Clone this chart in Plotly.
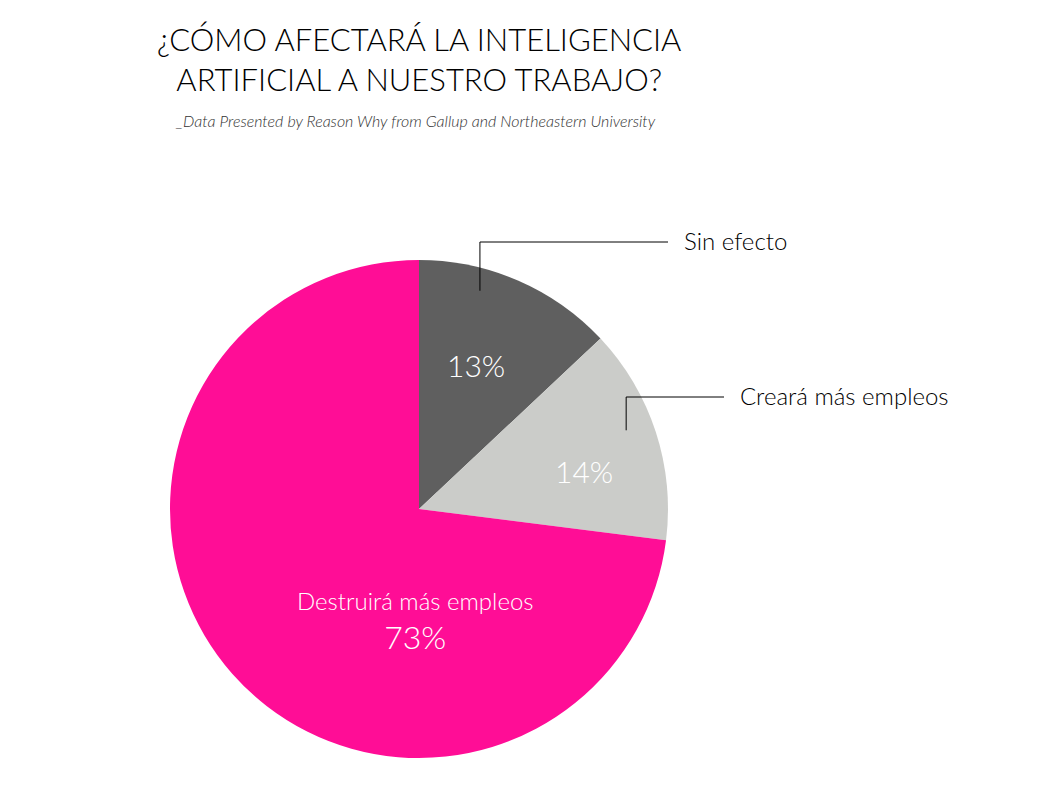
import math
import plotly.graph_objects as go

labels = ["Sin efecto", "Creará más empleos", "Destruirá más empleos"]
values = [13, 14, 73]
colors = ["#5f5f5f", "#cbccc9", "#ff0d96"]

W, H = 1050, 801
FONT = "Lato"
OFF = 8  # page body margin

# pie geometry in pixels (screen coordinates)
cx, cy, R = 419, 509, 249

def px(x):
    return (x - OFF) / W

def py(y):
    return 1 - (y - OFF) / H

fig = go.Figure()
fig.add_trace(go.Pie(
    labels=labels,
    values=values,
    marker=dict(colors=colors, line=dict(width=0)),
    sort=False,
    direction="clockwise",
    rotation=0,
    textinfo="none",
    hoverinfo="label+percent",
    showlegend=False,
    domain=dict(x=[px(cx - R), px(cx + R)], y=[py(cy + R), py(cy - R)]),
))

total = sum(values)
pcts = [round(v / total * 100) for v in values]

# inside text positions (angle from top clockwise in deg, radius fraction)
inside_pos = [(21.6, 0.62), (77.0, 0.68), (182.0, 0.45)]
annotations = []
for i, (ang, rf) in enumerate(inside_pos):
    x = cx + R * rf * math.sin(math.radians(ang))
    y = cy - R * rf * math.cos(math.radians(ang))
    if i == 2:
        txt = (f"<span style='font-size:24px'>{labels[i]}</span><br>"
               f"<span style='font-size:32px'>{pcts[i]}%</span>")
    else:
        txt = f"{pcts[i]}%"
    annotations.append(dict(
        x=px(x), y=py(y), xref="paper", yref="paper", text=txt, showarrow=False,
        font=dict(family=FONT, size=30, color="white", weight=300),
        xanchor="center", yanchor="middle",
    ))

# outside labels with elbow leader lines
outside = [
    # (slice index, start angle, start radius frac, elbow y px, line end x px)
    (0, 15.6, 0.91, 242, 668),
    (1, 69.2, 0.89, 397, 724),
]
shapes = []
for idx, ang, rf, ey, ex in outside:
    sx = cx + R * rf * math.sin(math.radians(ang))
    sy = cy - R * rf * math.cos(math.radians(ang))
    shapes.append(dict(
        type="path", xref="paper", yref="paper",
        path=f"M {px(sx)},{py(sy)} L {px(sx)},{py(ey)} L {px(ex)},{py(ey)}",
        line=dict(color="#000000", width=1),
    ))
    annotations.append(dict(
        x=px(ex + 14), y=py(ey - 2), xref="paper", yref="paper", text=labels[idx],
        showarrow=False, xanchor="left", yanchor="middle",
        font=dict(family=FONT, size=24, color="#000000", weight=300),
    ))

# title and subtitle
annotations.append(dict(
    x=px(419), y=py(59), xref="paper", yref="paper",
    text="¿CÓMO AFECTARÁ LA INTELIGENCIA<br>ARTIFICIAL A NUESTRO TRABAJO?",
    showarrow=False, xanchor="center", yanchor="middle",
    font=dict(family=FONT, size=31, color="#000000", weight=300),
))
annotations.append(dict(
    x=px(415), y=py(120), xref="paper", yref="paper",
    text="<i>_Data Presented by Reason Why from Gallup and Northeastern University</i>",
    showarrow=False, xanchor="center", yanchor="middle",
    font=dict(family=FONT, size=16, color="#333333", weight=300),
))

fig.update_layout(
    width=W, height=H,
    margin=dict(l=0, r=0, t=0, b=0),
    paper_bgcolor="white", plot_bgcolor="white",
    shapes=shapes, annotations=annotations,
)

fig.write_html("out.html")
